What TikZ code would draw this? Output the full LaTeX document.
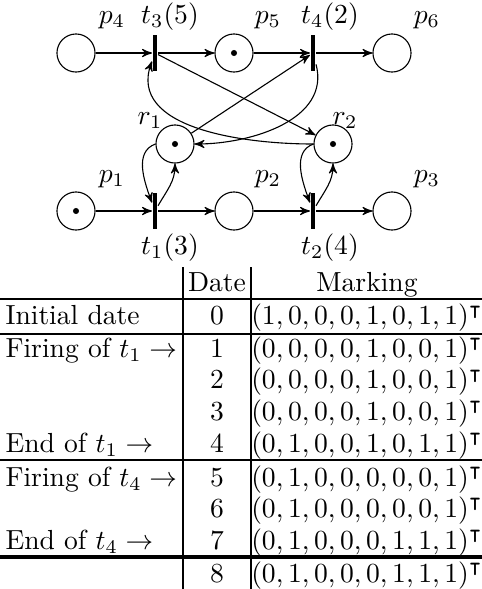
\documentclass[tikz,border=0pt]{standalone}
\usepackage{amssymb}
\usetikzlibrary{arrows}
\begin{document}
\begin{tikzpicture}[>=stealth',
    place/.style={circle,draw,minimum size=13.8pt,inner sep=0pt},
    token/.style={path picture={\fill (path picture bounding box.center) circle (1.1pt);}},
    trans/.style={rectangle,fill,minimum width=1.8pt,minimum height=13.4pt,inner sep=0pt},
    rule/.style={line width=0.9pt},
    event/.style={anchor=base west,inner sep=0pt}]
    \def\x{0.012735}
    \def\y{-0.012735}
    \useasboundingbox (0,0) rectangle (482*\x, 589*\y);
    % net
    \node[place] (p4) at (76*\x, 53*\y) {};
    \node[trans] (t3) at (155*\x, 53*\y) {};
    \node[place,token] (p5) at (234*\x, 53*\y) {};
    \node[trans] (t4) at (313*\x, 53*\y) {};
    \node[place] (p6) at (392*\x, 53*\y) {};
    \node[place,token] (r1) at (175*\x, 144*\y) {};
    \node[place,token] (r2) at (333*\x, 144*\y) {};
    \node[place,token] (p1) at (76*\x, 211*\y) {};
    \node[trans] (t1) at (155*\x, 211*\y) {};
    \node[place] (p2) at (234*\x, 211*\y) {};
    \node[trans] (t2) at (313*\x, 211*\y) {};
    \node[place] (p3) at (392*\x, 211*\y) {};
    \node[anchor=base] (lp4) at (112*\x, 23*\y) {$p_4$};
    \node[anchor=base] (lt3) at (170*\x, 23*\y) {$t_3(5)$};
    \node[anchor=base] (lp5) at (268*\x, 23*\y) {$p_5$};
    \node[anchor=base] (lt4) at (330*\x, 23*\y) {$t_4(2)$};
    \node[anchor=base] (lp6) at (427*\x, 23*\y) {$p_6$};
    \node[anchor=base] (lr1) at (150*\x, 124*\y) {$r_1$};
    \node[anchor=base] (lr2) at (345*\x, 124*\y) {$r_2$};
    \node[anchor=base] (lp1) at (112*\x, 182*\y) {$p_1$};
    \node[anchor=base] (lp2) at (268*\x, 182*\y) {$p_2$};
    \node[anchor=base] (lp3) at (427*\x, 182*\y) {$p_3$};
    \node[anchor=base] (lt1) at (170*\x, 254*\y) {$t_1(3)$};
    \node[anchor=base] (lt2) at (330*\x, 254*\y) {$t_2(4)$};
    \path (p4) edge [->] (t3);
    \path (t3) edge [->] (p5);
    \path (p5) edge [->] (t4);
    \path (t4) edge [->] (p6);
    \path (p1) edge [->] (t1);
    \path (t1) edge [->] (p2);
    \path (p2) edge [->] (t2);
    \path (t2) edge [->] (p3);
    \path (t3) edge [->] (r2);
    \path (r1) edge [->] (t4);
    \path (r2.west) edge [->,out=180,in=250] (t3);
    \path (t4) edge [->,out=-75,in=0] (r1.east);
    \path (r1.west) edge [->,out=200,in=110] (t1);
    \path (t1) edge [->,out=60,in=-90] (r1.south);
    \path (r2.west) edge [->,out=200,in=110] (t2);
    \path (t2) edge [->,out=60,in=-90] (r2.south);
    % table
    \draw[rule] (183*\x, 267*\y) -- (183*\x, 589*\y);
    \draw[rule] (251*\x, 267*\y) -- (251*\x, 589*\y);
    \draw[rule] (0, 299*\y) -- (482*\x, 299*\y);
    \draw[rule] (0, 334*\y) -- (482*\x, 334*\y);
    \draw[rule] (0, 460*\y) -- (482*\x, 460*\y);
    \draw[line width=1.5pt] (0, 557*\y) -- (482*\x, 557*\y);
    \node[anchor=base] (hd) at (217*\x, 291*\y) {Date};
    \node[anchor=base] (hm) at (367*\x, 291*\y) {Marking};
    \node[event] (e0) at (5*\x, 324*\y) {Initial date};
    \node[event] (e1) at (5*\x, 357*\y) {Firing of $t_1\to$};
    \node[event] (e4) at (5*\x, 452*\y) {End of $t_1\to$};
    \node[event] (e5) at (5*\x, 486*\y) {Firing of $t_4\to$};
    \node[event] (e7) at (5*\x, 549*\y) {End of $t_4\to$};
    \node[anchor=base] (d0) at (217*\x, 324*\y) {0};
    \node[anchor=base] (d1) at (217*\x, 357*\y) {1};
    \node[anchor=base] (d2) at (217*\x, 388*\y) {2};
    \node[anchor=base] (d3) at (217*\x, 420*\y) {3};
    \node[anchor=base] (d4) at (217*\x, 452*\y) {4};
    \node[anchor=base] (d5) at (217*\x, 486*\y) {5};
    \node[anchor=base] (d6) at (217*\x, 517*\y) {6};
    \node[anchor=base] (d7) at (217*\x, 549*\y) {7};
    \node[anchor=base] (d8) at (217*\x, 582*\y) {8};
    \node[anchor=base] (m0) at (367*\x, 324*\y) {$(1,0,0,0,1,0,1,1)^\intercal$};
    \node[anchor=base] (m1) at (367*\x, 357*\y) {$(0,0,0,0,1,0,0,1)^\intercal$};
    \node[anchor=base] (m2) at (367*\x, 388*\y) {$(0,0,0,0,1,0,0,1)^\intercal$};
    \node[anchor=base] (m3) at (367*\x, 420*\y) {$(0,0,0,0,1,0,0,1)^\intercal$};
    \node[anchor=base] (m4) at (367*\x, 452*\y) {$(0,1,0,0,1,0,1,1)^\intercal$};
    \node[anchor=base] (m5) at (367*\x, 486*\y) {$(0,1,0,0,0,0,0,1)^\intercal$};
    \node[anchor=base] (m6) at (367*\x, 517*\y) {$(0,1,0,0,0,0,0,1)^\intercal$};
    \node[anchor=base] (m7) at (367*\x, 549*\y) {$(0,1,0,0,0,1,1,1)^\intercal$};
    \node[anchor=base] (m8) at (367*\x, 582*\y) {$(0,1,0,0,0,1,1,1)^\intercal$};
  \end{tikzpicture}
\end{document}
